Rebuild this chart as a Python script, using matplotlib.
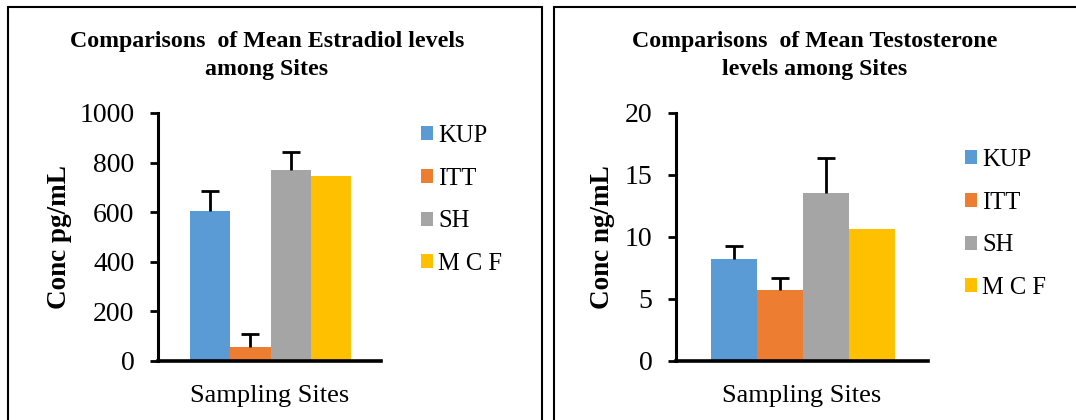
import matplotlib
matplotlib.use("Agg")
import matplotlib.pyplot as plt
from matplotlib.patches import Rectangle, Patch
import numpy as np

plt.rcParams['font.family'] = ['Liberation Serif', 'DejaVu Serif']

sites = ["KUP", "ITT", "SH", "M C F"]
colors = ["#5B9BD5", "#ED7D31", "#A5A5A5", "#FFC000"]

estradiol_mean = [605, 58, 769, 746]
estradiol_err = [80, 50, 72, 0]

testosterone_mean = [8.2, 5.73, 13.52, 10.62]
testosterone_err = [1.05, 1.0, 2.85, 0]

W, H = 1076, 420
fig = plt.figure(figsize=(W / 100, H / 100), dpi=100)

# panel borders
for (x0, x1) in [(8, 542), (554, 1090)]:
    fig.add_artist(Rectangle((x0 / W, -0.1), (x1 - x0) / W, 1.1 - 7 / H,
                             transform=fig.transFigure, fill=False,
                             edgecolor="black", linewidth=1.5, clip_on=False))


def panel(ax_px, xlim, means, errs, ylim, yticks, ylabel, ylabel_x,
          title, title_x, leg_x, leg_y):
    l, r = ax_px
    ax = fig.add_axes([l / W, (H - 361) / H, (r - l) / W, 248 / H])
    x = np.arange(len(sites))
    ax.bar(x, means, width=1.0, color=colors, edgecolor="none")
    idx = [i for i, e in enumerate(errs) if e > 0]
    _, caps, _ = ax.errorbar(x[idx], np.array(means)[idx],
                             yerr=[np.zeros(len(idx)), np.array(errs)[idx]],
                             fmt="none", ecolor="black", elinewidth=2,
                             capsize=6.5, capthick=2)
    caps[0].remove()  # only the upper cap is shown
    ax.set_xlim(*xlim)
    ax.set_ylim(*ylim)
    ax.set_yticks(yticks)
    ax.set_xticks([])
    for s in ["top", "right"]:
        ax.spines[s].set_visible(False)
    ax.spines["left"].set_linewidth(2.2)
    ax.spines["bottom"].set_linewidth(2.6)
    ax.tick_params(axis="y", length=6, width=2, labelsize=20, pad=11)
    ax.set_ylabel(ylabel, fontsize=19.5, fontweight="bold")
    ax.yaxis.set_label_coords((ylabel_x - l) / (r - l), 0.5)
    ax.set_xlabel("Sampling Sites", fontsize=19)
    ax.xaxis.set_label_coords(0.5, -0.097)
    fig.text(title_x / W, 1 - 41 / H, title[0], ha="center", va="center",
             fontsize=17.2, fontweight="bold")
    fig.text(title_x / W, 1 - 69 / H, title[1], ha="center", va="center",
             fontsize=17.2, fontweight="bold")
    handles = [Patch(facecolor=c, edgecolor="none") for c in colors]
    fig.legend(handles, sites, loc="upper left",
               bbox_to_anchor=(leg_x / W, 1 - leg_y / H),
               frameon=False, fontsize=17.7, handlelength=0.5,
               handleheight=0.5, handletextpad=0.2, labelspacing=0.84,
               borderpad=0, borderaxespad=0)
    return ax


panel((158, 381), (-1.3, 4.25), estradiol_mean, estradiol_err, (0, 1000),
      [0, 200, 400, 600, 800, 1000], "Conc pg/mL", 72,
      ["Comparisons  of Mean Estradiol levels", "among Sites"], 267,
      421, 125)
panel((676, 928), (-1.26, 4.22), testosterone_mean, testosterone_err, (0, 20),
      [0, 5, 10, 15, 20], "Conc ng/mL", 615,
      ["Comparisons  of Mean Testosterone", "levels among Sites"], 815,
      965, 149)

fig.savefig("out.png", dpi=100)
